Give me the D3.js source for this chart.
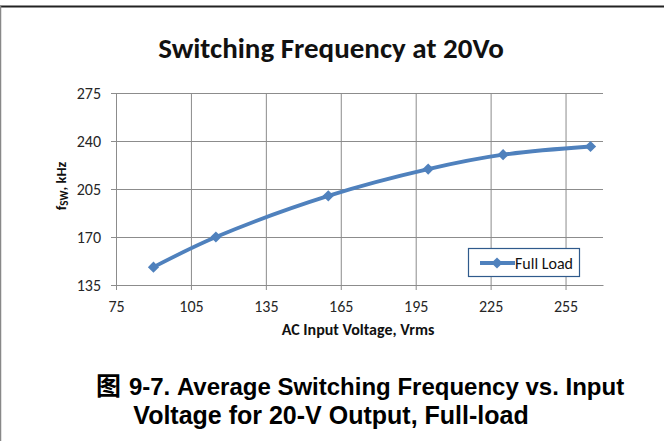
<!DOCTYPE html>
<html>
<head>
<meta charset="utf-8">
<script src="https://cdn.jsdelivr.net/npm/d3@7"></script>
<style>
  html, body { margin: 0; padding: 0; background: #fff; }
  svg { display: block; }
</style>
</head>
<body>
<svg id="chart" width="664" height="441"></svg>
<script>
// Input voltage (Vrms) and measured switching frequency (kHz)
const voltages = [90, 115, 160, 200, 230, 265];
const frequencies = [148, 170, 200, 219.5, 230, 236];
const seriesName = "Full Load";
const xTicks = [75, 105, 135, 165, 195, 225, 255];
const yTicks = [135, 170, 205, 240, 275];

const svg = d3.select("#chart");
const W = 664, H = 441;

// page frame
svg.append("line").attr("x1", 0).attr("x2", W).attr("y1", 6.5).attr("y2", 6.5)
  .attr("stroke", "#222").attr("stroke-width", 2);
svg.append("line").attr("x1", 0.5).attr("x2", 0.5).attr("y1", 6).attr("y2", H)
  .attr("stroke", "#888").attr("stroke-width", 1.5);

const plot = { left: 116, right: 603, top: 93, bottom: 285 };
const x = d3.scaleLinear().domain([75, 270]).range([plot.left, plot.right]);
const y = d3.scaleLinear().domain([135, 275]).range([plot.bottom, plot.top]);

const grid = "#8c8c8c";
const uiFont = "Calibri, Carlito, 'Liberation Sans', 'Open Sans', sans-serif";

// horizontal gridlines + y axis
const yAxis = d3.axisLeft(y).tickValues(yTicks).tickSize(-(plot.right - plot.left)).tickPadding(15)
  .tickSizeOuter(0);
const gy = svg.append("g").attr("transform", `translate(${plot.left},0)`).call(yAxis);
gy.select(".domain").attr("stroke", grid);
gy.selectAll(".tick line").attr("stroke", grid).attr("x1", -5);
gy.selectAll(".tick text").attr("fill", "#262626").style("font-size", "16px")
  .style("font-family", uiFont);

// vertical gridlines + x axis
const xAxis = d3.axisBottom(x).tickValues(xTicks).tickSize(-(plot.bottom - plot.top)).tickPadding(16)
  .tickSizeOuter(0);
const gx = svg.append("g").attr("transform", `translate(0,${plot.bottom})`).call(xAxis);
gx.select(".domain").attr("stroke", grid);
gx.selectAll(".tick line").attr("stroke", grid).attr("y1", 5);
gx.selectAll(".tick text").attr("fill", "#262626").style("font-size", "16px")
  .style("font-family", uiFont);

// chart title
svg.append("text").attr("x", 331).attr("y", 58).attr("text-anchor", "middle")
  .style("font-family", uiFont).style("font-weight", "bold").style("font-size", "29px")
  .attr("fill", "#111").text("Switching Frequency at 20Vo");

// axis titles
svg.append("text").attr("x", 358).attr("y", 335).attr("text-anchor", "middle")
  .style("font-family", uiFont).style("font-weight", "bold").style("font-size", "16px")
  .attr("fill", "#111").text("AC Input Voltage, Vrms");

const yt = svg.append("text").attr("transform", "translate(66,186) rotate(-90)")
  .attr("text-anchor", "middle")
  .style("font-family", uiFont).style("font-weight", "bold").style("font-size", "14.5px")
  .attr("fill", "#111");
yt.append("tspan").text("f");
yt.append("tspan").style("font-size", "11px").attr("dy", 2).text("SW");
yt.append("tspan").attr("dy", -2).text(", kHz");

// series
const color = "#4F81BD";
const pts = voltages.map((v, i) => [v, frequencies[i]]);
const line = d3.line().x(d => x(d[0])).y(d => y(d[1])).curve(d3.curveCatmullRom.alpha(0.5));
svg.append("path").datum(pts).attr("d", line).attr("fill", "none")
  .attr("stroke", color).attr("stroke-width", 3.8).attr("stroke-linecap", "round");

const diamond = d3.symbol().type(d3.symbolDiamond2).size(80);
svg.selectAll("path.pt").data(pts).join("path").attr("class", "pt")
  .attr("transform", d => `translate(${x(d[0])},${y(d[1])})`)
  .attr("d", diamond).attr("fill", color);

// legend
const lg = svg.append("g").attr("transform", "translate(468,248)");
lg.append("rect").attr("x", 0.5).attr("y", 0.5).attr("width", 111).attr("height", 28)
  .attr("fill", "#fff").attr("stroke", "#2F5A8C").attr("stroke-width", 1.2);
lg.append("line").attr("x1", 12).attr("x2", 47).attr("y1", 15).attr("y2", 15)
  .attr("stroke", color).attr("stroke-width", 3.8);
lg.append("path").attr("transform", "translate(29,15)").attr("d", diamond).attr("fill", color);
lg.append("text").attr("x", 47).attr("y", 20.5).style("font-family", uiFont)
  .style("font-size", "16px").attr("fill", "#111").text(seriesName);

// figure caption
const cap = svg.append("text").attr("text-anchor", "middle")
  .style("font-family", "Arial, 'Liberation Sans', 'Noto Sans CJK SC', sans-serif")
  .style("font-weight", "bold").style("font-size", "24px").attr("fill", "#000");
const l1 = cap.append("tspan").attr("x", 360).attr("y", 395);
l1.append("tspan").style("font-family", "'Noto Sans CJK SC', sans-serif").style("font-size", "25px").text("图");
l1.append("tspan").attr("dx", 8).text("9-7. Average Switching Frequency vs. Input");
cap.append("tspan").attr("x", 331).attr("y", 424).style("font-size", "25px")
  .text("Voltage for 20-V Output, Full-load");
</script>
</body>
</html>
